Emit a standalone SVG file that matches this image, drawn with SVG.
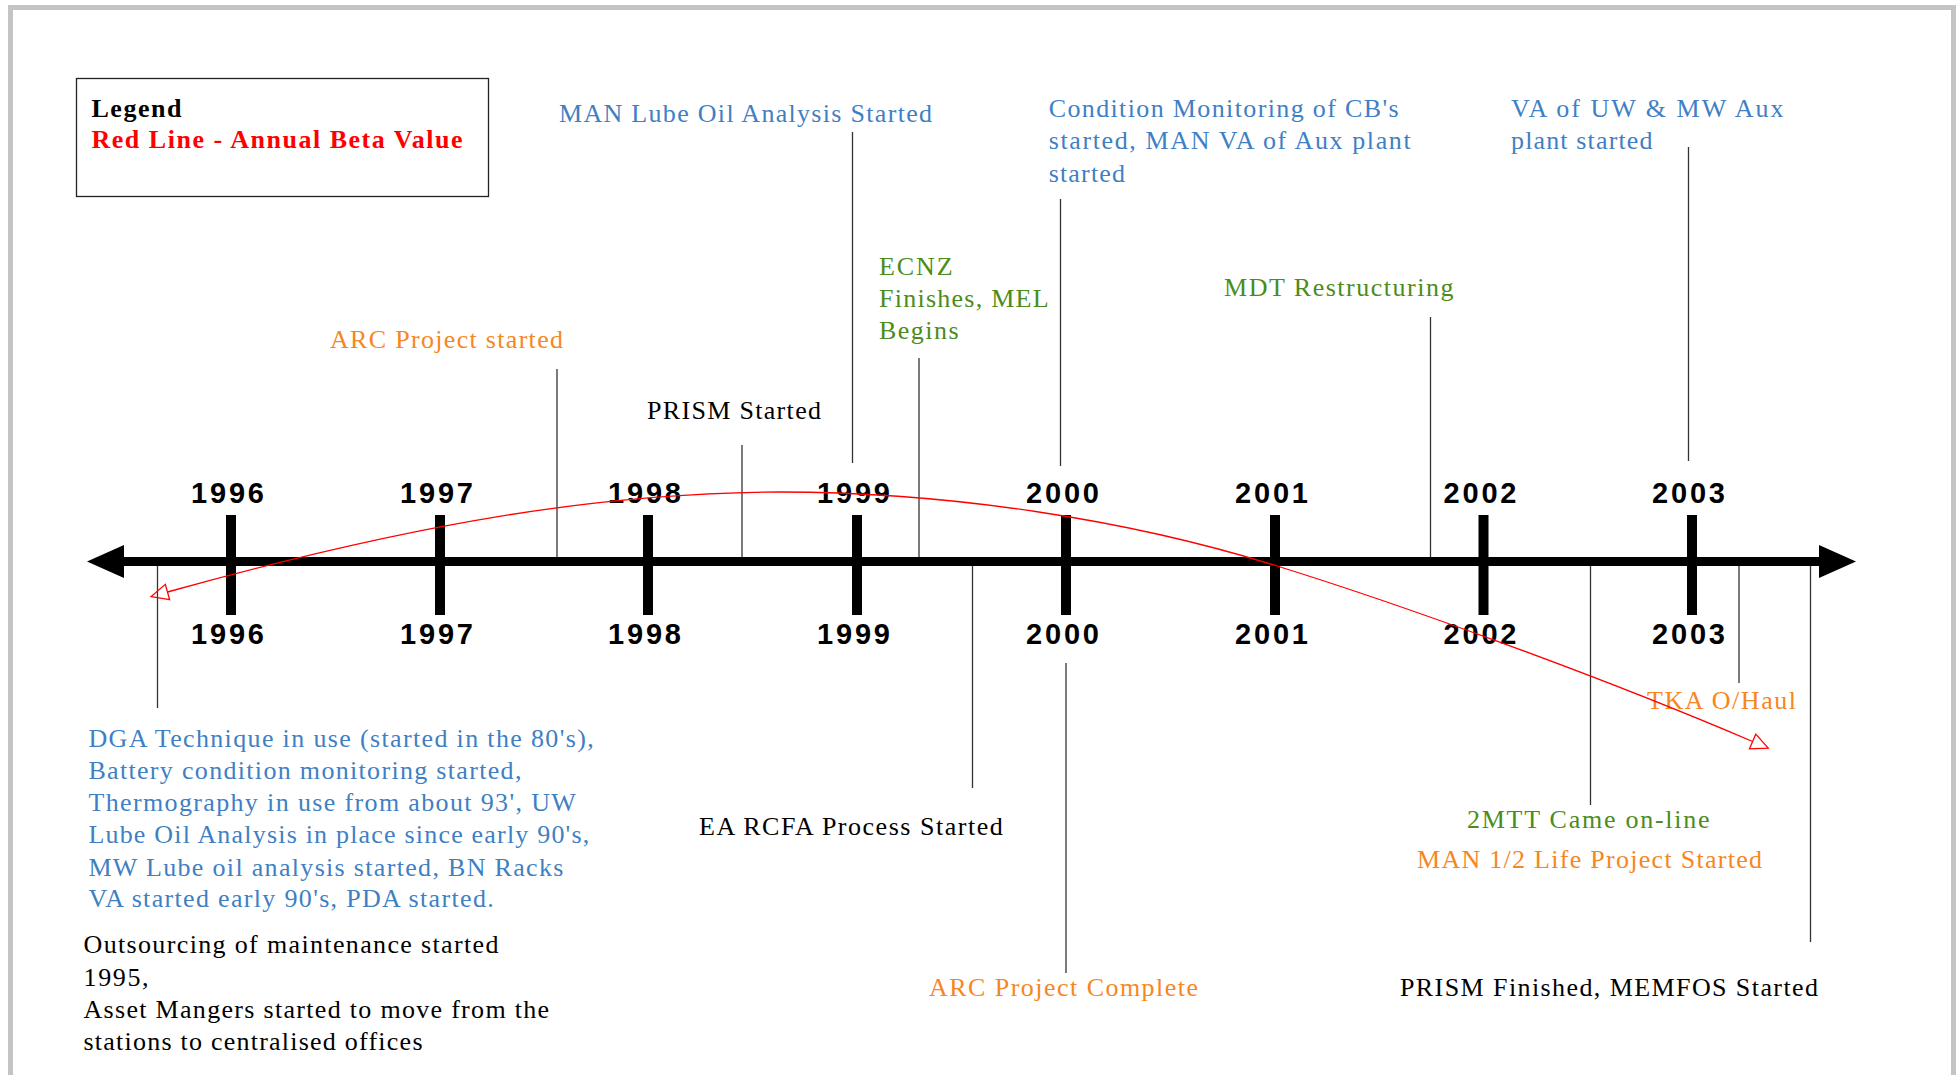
<svg xmlns="http://www.w3.org/2000/svg" width="1959" height="1075" viewBox="0 0 1959 1075">
<defs>
<style>
.t{font-family:"Liberation Serif","Times New Roman",serif;font-size:26px}
.b{font-weight:bold}
.blue{fill:#3f7fc3}
.green{fill:#4b8c1a}
.orange{fill:#f7861e}
.black{fill:#000}
.red{fill:#ff0000}
.yr{font-family:"Liberation Sans",Arial,sans-serif;font-weight:bold;font-size:29px;fill:#000}
.lead{stroke:#333;stroke-width:1.3;fill:none}
.tick{fill:#000}
</style>
<marker id="open" markerUnits="userSpaceOnUse" viewBox="-2 -10 22 20" markerWidth="22" markerHeight="20" refX="0" refY="0" orient="auto-start-reverse">
<path d="M0,-8 L17,0 L0,8 Z" fill="none" stroke="#ff0000" stroke-width="1.3"/>
</marker>
</defs>
<rect width="1959" height="1075" fill="#fff"/>
<path d="M10.5,1080 V7.5 H1953.5 V1080" fill="none" stroke="#c4c4c4" stroke-width="5"/>

<g id="legend">
<rect x="76.5" y="78.5" width="412" height="118" fill="#fff" stroke="#222" stroke-width="1.3"/>
<text class="t b black" x="91.5" y="117" textLength="90">Legend</text>
<text class="t b red" x="91.5" y="148" textLength="371">Red Line - Annual Beta Value</text>
</g>

<g id="connectors">
<line class="lead" x1="557" y1="369" x2="557" y2="557"/>
<line class="lead" x1="742" y1="445" x2="742" y2="557"/>
<line class="lead" x1="852.5" y1="132" x2="852.5" y2="463"/>
<line class="lead" x1="919" y1="358" x2="919" y2="557"/>
<line class="lead" x1="1060.5" y1="199" x2="1060.5" y2="466"/>
<line class="lead" x1="1430.5" y1="317" x2="1430.5" y2="557"/>
<line class="lead" x1="1688.5" y1="147" x2="1688.5" y2="461"/>
<line class="lead" x1="157.5" y1="566" x2="157.5" y2="708"/>
<line class="lead" x1="972.5" y1="566" x2="972.5" y2="788"/>
<line class="lead" x1="1066" y1="663" x2="1066" y2="973"/>
<line class="lead" x1="1590.5" y1="566" x2="1590.5" y2="805"/>
<line class="lead" x1="1739" y1="566" x2="1739" y2="683"/>
<line class="lead" x1="1810.5" y1="566" x2="1810.5" y2="942"/>
</g>

<g id="timeline">
<line x1="120" y1="561.5" x2="1823" y2="561.5" stroke="#000" stroke-width="9"/>
<polygon points="87,561.5 124,545 124,578" fill="#000"/>
<polygon points="1856,561.5 1819,545 1819,578" fill="#000"/>
<rect class="tick" x="226" y="515" width="10" height="100"/>
<rect class="tick" x="435" y="515" width="10" height="100"/>
<rect class="tick" x="643" y="515" width="10" height="100"/>
<rect class="tick" x="852" y="515" width="10" height="100"/>
<rect class="tick" x="1061" y="515" width="10" height="100"/>
<rect class="tick" x="1270" y="515" width="10" height="100"/>
<rect class="tick" x="1478.5" y="515" width="10" height="100"/>
<rect class="tick" x="1687" y="515" width="10" height="100"/>
<text class="yr" x="191" y="503" textLength="73">1996</text>
<text class="yr" x="400" y="503" textLength="73">1997</text>
<text class="yr" x="608" y="503" textLength="73">1998</text>
<text class="yr" x="817" y="503" textLength="73">1999</text>
<text class="yr" x="1026" y="503" textLength="73">2000</text>
<text class="yr" x="1235" y="503" textLength="73">2001</text>
<text class="yr" x="1443.5" y="503" textLength="73">2002</text>
<text class="yr" x="1652" y="503" textLength="73">2003</text>
<text class="yr" x="191" y="644" textLength="73">1996</text>
<text class="yr" x="400" y="644" textLength="73">1997</text>
<text class="yr" x="608" y="644" textLength="73">1998</text>
<text class="yr" x="817" y="644" textLength="73">1999</text>
<text class="yr" x="1026" y="644" textLength="73">2000</text>
<text class="yr" x="1235" y="644" textLength="73">2001</text>
<text class="yr" x="1443.5" y="644" textLength="73">2002</text>
<text class="yr" x="1652" y="644" textLength="73">2003</text>
</g>

<g id="event-arc-started">
<text class="t orange" x="330" y="348" textLength="233">ARC Project started</text>
</g>
<g id="event-prism-started">
<text class="t black" x="647" y="419" textLength="174">PRISM Started</text>
</g>
<g id="event-man-lube">
<text class="t blue" x="559" y="122" textLength="373">MAN Lube Oil Analysis Started</text>
</g>
<g id="event-ecnz">
<text class="t green" x="879" y="275" textLength="73.7">ECNZ</text>
<text class="t green" x="879" y="307" textLength="169.6">Finishes, MEL</text>
<text class="t green" x="879" y="339" textLength="79.5">Begins</text>
</g>
<g id="event-condition-monitoring">
<text class="t blue" x="1048.7" y="117" textLength="350">Condition Monitoring of CB's</text>
<text class="t blue" x="1048.7" y="149.3" textLength="362">started, MAN VA of Aux plant</text>
<text class="t blue" x="1048.7" y="181.7" textLength="76.3">started</text>
</g>
<g id="event-mdt">
<text class="t green" x="1224" y="296" textLength="229.5">MDT Restructuring</text>
</g>
<g id="event-va-uw-mw">
<text class="t blue" x="1511" y="117" textLength="272.6">VA of UW &amp; MW Aux</text>
<text class="t blue" x="1511" y="149" textLength="141.5">plant started</text>
</g>
<g id="event-dga">
<text class="t blue" x="88.4" y="746.7" textLength="505.3">DGA Technique in use (started in the 80's),</text>
<text class="t blue" x="88.4" y="779" textLength="433">Battery condition monitoring started,</text>
<text class="t blue" x="88.4" y="811" textLength="487.5">Thermography in use from about 93', UW</text>
<text class="t blue" x="88.4" y="843.3" textLength="500.9">Lube Oil Analysis in place since early 90's,</text>
<text class="t blue" x="88.4" y="875.7" textLength="475">MW Lube oil analysis started, BN Racks</text>
<text class="t blue" x="88.4" y="907.3" textLength="405.3">VA started early 90's, PDA started.</text>
</g>
<g id="event-outsourcing">
<text class="t black" x="83.5" y="953.3" textLength="415">Outsourcing of maintenance started</text>
<text class="t black" x="83.5" y="986" textLength="65">1995,</text>
<text class="t black" x="83.5" y="1017.7" textLength="465.6">Asset Mangers started to move from the</text>
<text class="t black" x="83.5" y="1050" textLength="339">stations to centralised offices</text>
</g>
<g id="event-ea-rcfa">
<text class="t black" x="699" y="835" textLength="303.7">EA RCFA Process Started</text>
</g>
<g id="event-arc-complete">
<text class="t orange" x="929" y="996" textLength="269">ARC Project Complete</text>
</g>
<g id="event-2mtt">
<text class="t green" x="1467" y="828" textLength="242.5">2MTT Came on-line</text>
</g>
<g id="event-man-half-life">
<text class="t orange" x="1417" y="868" textLength="345">MAN 1/2 Life Project Started</text>
</g>
<g id="event-tka">
<text class="t orange" x="1647" y="709" textLength="149">TKA O/Haul</text>
</g>
<g id="event-prism-finished">
<text class="t black" x="1400" y="996" textLength="418">PRISM Finished, MEMFOS Started</text>
</g>

<g id="beta-line">
<path d="M167.5,592 C420,522 600,493 780,492 C950,492 1130,520 1277,566 C1390,601 1590,672 1752.6,741.5" fill="none" stroke="#ff0000" stroke-width="1.3" marker-start="url(#open)" marker-end="url(#open)"/>
</g>
</svg>
